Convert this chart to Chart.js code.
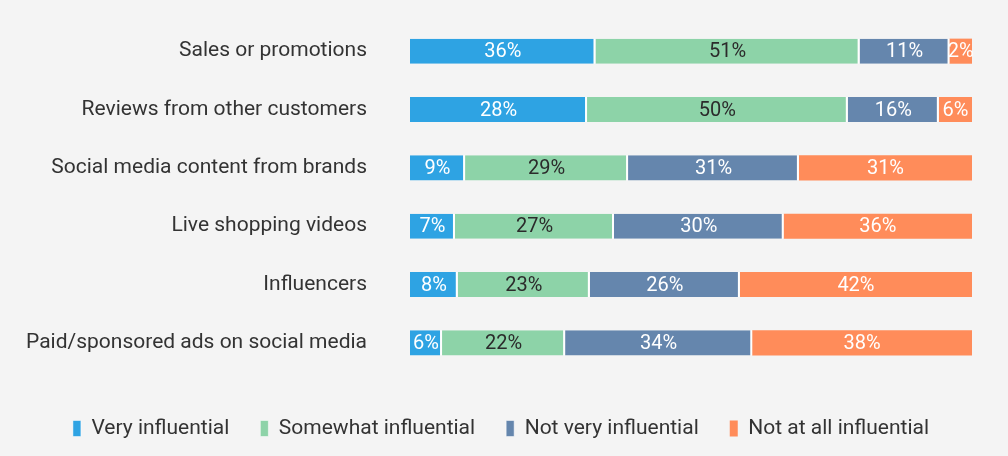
<!DOCTYPE html>
<html>
<head>
<meta charset="utf-8">
<script src="https://cdn.jsdelivr.net/npm/chart.js@4"></script>
<style>
  html, body { margin: 0; padding: 0; background: #f4f4f4; }
  #wrap { width: 1008px; height: 456px; }
</style>
</head>
<body>
<div id="wrap"><canvas id="chart" width="1008" height="456"></canvas></div>
<script>
// categories, top to bottom
const categories = [
  'Sales or promotions',
  'Reviews from other customers',
  'Social media content from brands',
  'Live shopping videos',
  'Influencers',
  'Paid/sponsored ads on social media',
];
const seriesNames = ['Very influential', 'Somewhat influential', 'Not very influential', 'Not at all influential'];

// share of the bar each segment takes (as drawn)
const veryShare = [33, 31.5, 9.8, 8, 8.5, 5.7];
const somewhatShare = [47, 46.4, 29, 28.3, 23.5, 21.9];
const notVeryShare = [16, 16.2, 30.4, 30.2, 26.7, 33.3];
const notAtAllShare = [4, 5.9, 30.8, 33.5, 41.3, 39.1];

// printed labels
const veryLabels = ['36%', '28%', '9%', '7%', '8%', '6%'];
const somewhatLabels = ['51%', '50%', '29%', '27%', '23%', '22%'];
const notVeryLabels = ['11%', '16%', '31%', '30%', '26%', '34%'];
const notAtAllLabels = ['2%', '6%', '31%', '36%', '42%', '38%'];

const colors = ['#2ea3e3', '#8dd3a8', '#6586ad', '#ff8c5a'];
const labelColors = ['#ffffff', '#2b2b2b', '#ffffff', '#ffffff'];
const shares = [veryShare, somewhatShare, notVeryShare, notAtAllShare];
const printed = [veryLabels, somewhatLabels, notVeryLabels, notAtAllLabels];

const FONT = 'Roboto, "Noto Sans", sans-serif';

// draws the percent text in the middle of each segment
const segmentLabels = {
  id: 'segmentLabels',
  afterDatasetsDraw(chart) {
    const ctx = chart.ctx;
    ctx.save();
    ctx.font = '20px ' + FONT;
    ctx.textAlign = 'center';
    ctx.textBaseline = 'middle';
    chart.data.datasets.forEach((ds, di) => {
      chart.getDatasetMeta(di).data.forEach((bar, i) => {
        const x = (bar.x + bar.base) / 2;
        ctx.fillStyle = labelColors[di];
        ctx.fillText(printed[di][i], x, bar.y + 1);
      });
    });
    ctx.restore();
  }
};

// nudge the legend: a bit lower (gap under the bars) and centred on the page
const legendNudge = {
  id: 'legendNudge',
  afterLayout(chart) {
    const lg = chart.legend;
    lg.top += 15;
    lg.bottom += 15;
    lg.left += 15;
    lg.right += 15;
  }
};

new Chart(document.getElementById('chart'), {
  type: 'bar',
  data: {
    labels: categories,
    datasets: seriesNames.map((name, i) => ({
      label: name,
      data: shares[i],
      backgroundColor: colors[i],
      borderColor: '#ffffff',
      borderWidth: i < 3 ? { right: 2, left: 0, top: 0, bottom: 0 } : 0,
      borderSkipped: false,
      barPercentage: 1,
      categoryPercentage: 0.43,
    })),
  },
  options: {
    indexAxis: 'y',
    responsive: false,
    animation: false,
    layout: { padding: { top: 22, right: 36, left: 0, bottom: 1 } },
    scales: {
      x: { stacked: true, min: 0, max: 100, display: false },
      y: {
        stacked: true,
        grid: { display: false, drawTicks: false },
        border: { display: false },
        ticks: { color: '#333333', font: { family: FONT, size: 21 }, padding: 43 },
        afterFit(scale) {
          scale.width = 410;
          scale.paddingTop = 0;
          scale.paddingBottom = 84; // room for the legend below the bars
        },
      },
    },
    plugins: {
      legend: {
        position: 'bottom',
        labels: {
          color: '#333333',
          font: { family: FONT, size: 21 },
          boxWidth: 8,
          boxHeight: 16,
          padding: 31,
        },
      },
      tooltip: { enabled: false },
    },
  },
  plugins: [segmentLabels, legendNudge],
});
</script>
</body>
</html>
